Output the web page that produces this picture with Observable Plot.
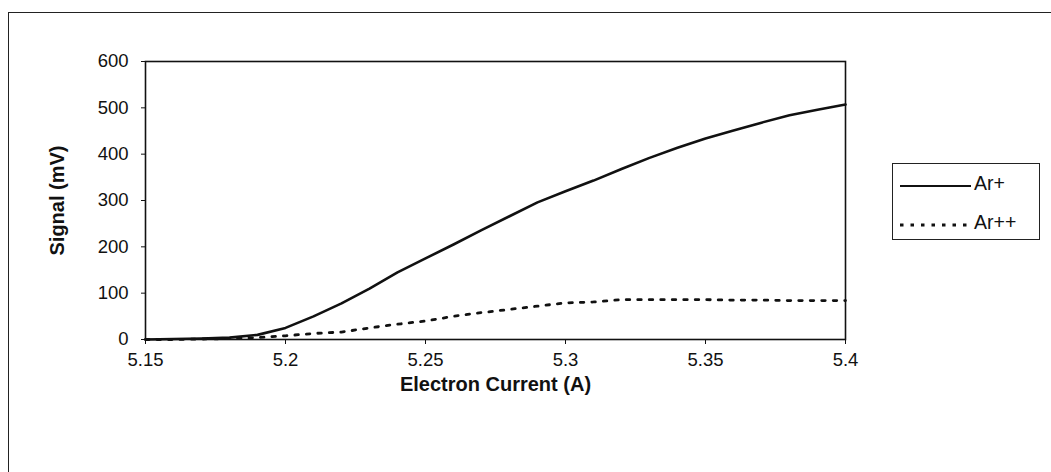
<!DOCTYPE html>
<html>
<head>
<meta charset="utf-8">
<script src="https://cdn.jsdelivr.net/npm/d3@7"></script>
<script src="https://cdn.jsdelivr.net/npm/@observablehq/plot@0.6"></script>
<style>
  html, body { margin: 0; padding: 0; background: #fff; }
  #wrap { position: relative; width: 1051px; height: 472px; overflow: hidden; font-family: "Liberation Sans", Arial, sans-serif; }
  #frame { position: absolute; left: 8px; top: 12px; width: 1100px; height: 500px; border: 1.5px solid #222; }
  #chart { position: absolute; left: 0; top: 0; }
  #legend { position: absolute; left: 892px; top: 163px; width: 148px; height: 77px; border: 1.5px solid #222; box-sizing: border-box; background: #fff; }
  .item { position: absolute; left: 6px; height: 22px; display: flex; align-items: center; font-size: 19.5px; color: #111; }
  .item svg { margin-right: 3px; }
</style>
</head>
<body>
<div id="wrap">
  <div id="frame"></div>
  <div id="chart"></div>
  <div id="legend"></div>
</div>
<script>
const current = [5.15, 5.16, 5.17, 5.18, 5.19, 5.20, 5.21, 5.22, 5.23, 5.24, 5.25, 5.26, 5.27, 5.28, 5.29, 5.30, 5.31, 5.32, 5.33, 5.34, 5.35, 5.36, 5.37, 5.38, 5.39, 5.40];
const arPlus = [0, 1, 2, 4, 10, 25, 50, 78, 110, 145, 175, 205, 236, 266, 296, 320, 343, 368, 392, 414, 434, 451, 468, 484, 496, 507];
const arPlusPlus = [0, 0, 1, 2, 4, 8, 13, 16, 25, 33, 40, 50, 58, 65, 72, 79, 81, 86, 86, 86, 86, 85, 85, 84, 84, 84];
const seriesNames = ["Ar+", "Ar++"];
const xTicks = [5.15, 5.2, 5.25, 5.3, 5.35, 5.4];
const xTickLabels = ["5.15", "5.2", "5.25", "5.3", "5.35", "5.4"];
const yTicks = [0, 100, 200, 300, 400, 500, 600];

const rows = [];
current.forEach((c, i) => {
  rows.push({x: c, y: arPlus[i], s: seriesNames[0]});
  rows.push({x: c, y: arPlusPlus[i], s: seriesNames[1]});
});

const chart = Plot.plot({
  width: 1051,
  height: 472,
  marginLeft: 145,
  marginRight: 206,
  marginTop: 61,
  marginBottom: 133,
  style: {fontFamily: "'Liberation Sans', Arial, sans-serif", fontSize: "18.5px", color: "#111", background: "transparent"},
  x: {domain: [5.15, 5.4]},
  y: {domain: [0, 600]},
  marks: [
    Plot.frame({stroke: "#111", strokeWidth: 1.6}),
    Plot.axisX({ticks: xTicks, tickFormat: (d) => xTickLabels[xTicks.indexOf(d)], tickSize: 5, tickPadding: 8,
      label: "Electron Current (A)", labelAnchor: "center", labelArrow: "none", labelOffset: 51}),
    Plot.axisY({ticks: yTicks, tickSize: 4, tickPadding: 13,
      label: "Signal (mV)", labelAnchor: "center", labelArrow: "none", labelOffset: 96}),
    Plot.line(rows.filter(d => d.s === "Ar+"), {x: "x", y: "y", stroke: "#111", strokeWidth: 2.6}),
    Plot.line(rows.filter(d => d.s === "Ar++"), {x: "x", y: "y", stroke: "#111", strokeWidth: 2.8, strokeDasharray: "3.5,8"})
  ]
});
document.getElementById("chart").appendChild(chart);

chart.querySelectorAll("g[aria-label='x-axis label'] text, g[aria-label='y-axis label'] text").forEach(t => {
  t.setAttribute("font-weight", "bold");
  t.setAttribute("font-size", "20px");
});

const legend = document.getElementById("legend");
const styles = [{dash: null}, {dash: "3.5,7"}];
seriesNames.forEach((name, i) => {
  const item = document.createElement("div");
  item.className = "item";
  item.style.top = (i === 0 ? 8 : 47) + "px";
  const svg = d3.create("svg").attr("width", 72).attr("height", 20);
  const ln = svg.append("line").attr("x1", 1).attr("x2", 72).attr("y1", 13).attr("y2", 13)
    .attr("stroke", "#111").attr("stroke-width", i === 0 ? 2.2 : 2.8);
  if (styles[i].dash) ln.attr("stroke-dasharray", styles[i].dash);
  item.appendChild(svg.node());
  const span = document.createElement("span");
  span.textContent = name;
  item.appendChild(span);
  legend.appendChild(item);
});
</script>
</body>
</html>
